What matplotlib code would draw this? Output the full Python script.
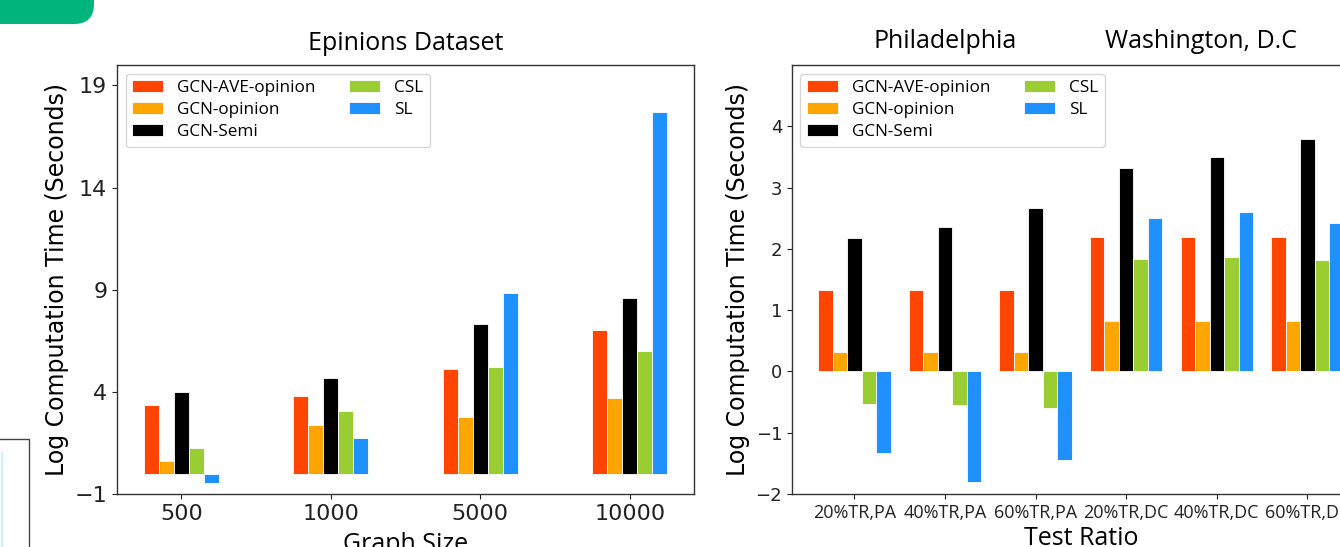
#%%
import numpy as np
import matplotlib
matplotlib.use("Agg")
import matplotlib.pyplot as plt
from matplotlib.patches import FancyBboxPatch
from matplotlib.lines import Line2D

#%% data

methods = ["GCN-AVE-opinion", "GCN-opinion", "GCN-Semi", "CSL", "SL"]
colors = ["orangered", "orange", "black", "yellowgreen", "dodgerblue"]

graph_sizes = ["500", "1000", "5000", "10000"]
epinions_ave = [3.38, 3.82, 5.13, 7.02]
epinions_opinion = [0.60, 2.40, 2.78, 3.72]
epinions_semi = [4.00, 4.67, 7.30, 8.59]
epinions_csl = [1.23, 3.05, 5.20, 6.02]
epinions_sl = [-0.46, 1.74, 8.83, 17.70]

test_ratios = ["20%TR,PA", "40%TR,PA", "60%TR,PA", "20%TR,DC", "40%TR,DC", "60%TR,DC"]
city_ave = [1.33, 1.33, 1.33, 2.19, 2.19, 2.19]
city_opinion = [0.32, 0.32, 0.32, 0.82, 0.82, 0.82]
city_semi = [2.18, 2.36, 2.66, 3.32, 3.50, 3.80]
city_csl = [-0.53, -0.55, -0.60, 1.83, 1.86, 1.81]
city_sl = [-1.33, -1.80, -1.45, 2.51, 2.60, 2.42]

#%% helpers

title_font = "Open Sans"
tick_font = "DejaVu Sans"


def grouped_bars(ax, series, width):
    x = np.arange(len(series[0]))
    offsets = (np.arange(len(series)) - (len(series) - 1) / 2) * width
    for vals, off, col, lab in zip(series, offsets, colors, methods):
        ax.bar(x + off, vals, width, color=col, label=lab,
               edgecolor="white", linewidth=0.6)
    return x


def style_axes(ax):
    for sp in ax.spines.values():
        sp.set_color("#333333")
        sp.set_linewidth(1.0)
    ax.tick_params(colors="#222222")
    ax.legend(loc="upper left", ncol=2, handlelength=1.8, labelspacing=0.35,
              prop={"family": title_font, "size": 12.3})


#%% figure

fig = plt.figure(figsize=(13.4, 5.47), dpi=100)

# left panel: Epinions
ax1 = fig.add_axes([0.0873, 0.0969, 0.4306, 0.7843])
x1 = grouped_bars(ax1, [epinions_ave, epinions_opinion, epinions_semi,
                        epinions_csl, epinions_sl], 0.1)
ax1.set_xlim(-0.43, 3.43)
ax1.set_ylim(-1, 20)
ax1.set_yticks([-1, 4, 9, 14, 19])
ax1.set_xticks(x1)
ax1.set_xticklabels(graph_sizes)
ax1.tick_params(labelsize=16)
ax1.set_ylabel("Log Computation Time (Seconds)", fontsize=17, family=tick_font)
ax1.set_xlabel("Graph Size", fontsize=18, family=title_font, labelpad=6)
ax1.set_title("Epinions Dataset", fontsize=18, family=title_font, pad=11)
style_axes(ax1)

# right panel: Philadelphia / Washington
ax2 = fig.add_axes([0.591, 0.0969, 0.4313, 0.7843])
x2 = grouped_bars(ax2, [city_ave, city_opinion, city_semi,
                        city_csl, city_sl], 0.16)
ax2.set_xlim(-0.69, 5.69)
ax2.set_ylim(-2, 5)
ax2.set_yticks([-2, -1, 0, 1, 2, 3, 4])
ax2.set_xticks(x2)
ax2.set_xticklabels(test_ratios, family=title_font, fontsize=13)
ax2.tick_params(axis="y", labelsize=13)
ax2.set_ylabel("Log Computation Time (Seconds)", fontsize=17, family=tick_font)
ax2.set_xlabel("Test Ratio", fontsize=18, family=title_font, labelpad=3)
# two city names sit above their groups instead of one title
for xpos, name in [(1.0, "Philadelphia"), (3.83, "Washington, D.C")]:
    ax2.text(xpos, 1.026, name, transform=ax2.get_xaxis_transform(),
             ha="center", va="bottom", fontsize=18, family=title_font)
style_axes(ax2)

#%% page decorations cropped into the screenshot

px = fig.dpi_scale_trans
green = FancyBboxPatch((-0.4, 5.47 - 0.24), 1.34, 0.6,
                       boxstyle="round,pad=0,rounding_size=0.2",
                       transform=px, facecolor="#00b57a", edgecolor="none")
fig.patches.append(green)

fig.add_artist(Line2D([0, 0.287, 0.287], [5.47 - 4.39, 5.47 - 4.39, -0.1],
                      transform=px, color="#444444", linewidth=1.0))
fig.add_artist(Line2D([0.02, 0.02], [5.47 - 4.53, -0.1],
                      transform=px, color="#c8f4ff", linewidth=1.5))

fig.savefig("out.png", dpi=100)
